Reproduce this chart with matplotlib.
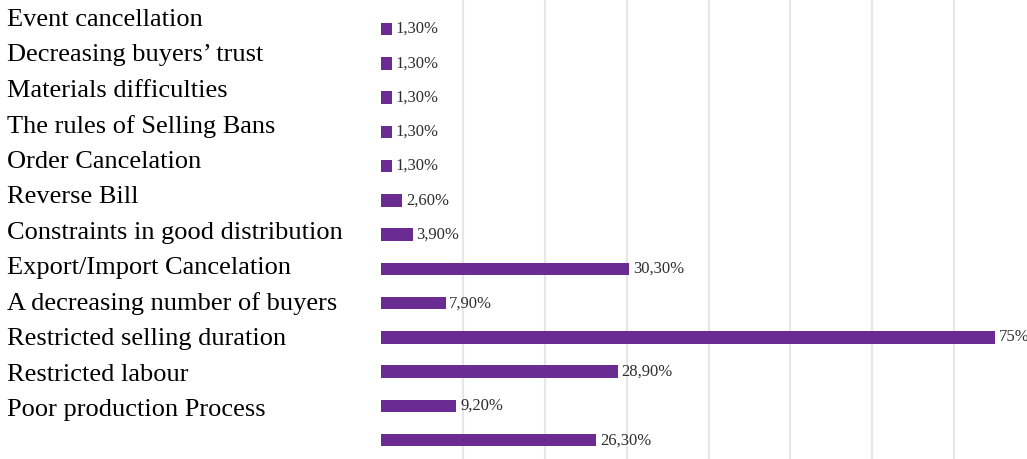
import matplotlib.pyplot as plt
import numpy as np

categories = [
    "Event cancellation",
    "Decreasing buyers\u2019 trust",
    "Materials difficulties",
    "The rules of Selling Bans",
    "Order Cancelation",
    "Reverse Bill",
    "Constraints in good distribution",
    "Export/Import Cancelation",
    "A decreasing number of buyers",
    "Restricted selling duration",
    "Restricted labour",
    "Poor production Process",
]
values = [1.3, 1.3, 1.3, 1.3, 1.3, 2.6, 3.9, 30.3, 7.9, 75, 28.9, 9.2, 26.3]
value_labels = ["1,30%", "1,30%", "1,30%", "1,30%", "1,30%", "2,60%", "3,90%",
                "30,30%", "7,90%", "75%", "28,90%", "9,20%", "26,30%"]

bar_color = "#6a2c92"

fig = plt.figure(figsize=(10.27, 4.59), dpi=100)
ax = fig.add_axes([381 / 1027, 0.0, 1 - 381 / 1027, 1.0])

pos = np.arange(len(values))
ax.barh(pos, values, height=0.36, color=bar_color, zorder=3)

for p, v, lab in zip(pos, values, value_labels):
    ax.text(v + 0.45, p, lab, va="center", ha="left", fontsize=12,
            family="Liberation Serif", color="#2e2e2e", zorder=4)

ax.set_xlim(0, 78.9)
ax.set_ylim(len(values) - 0.5 + 0.05, -0.85)
ax.set_xticks(np.arange(10, 80, 10))
ax.xaxis.grid(True, color="#e6e6e6", linewidth=1.5, zorder=0)
ax.tick_params(axis="x", length=0, labelbottom=False)

# category names sit a touch higher than their bars and drift down the list
label_pos = np.arange(len(categories)) * 1.037 - 0.35
ax.set_yticks(label_pos)
ax.set_yticklabels(categories, family="Liberation Serif", fontsize=19, color="black")
ax.tick_params(axis="y", length=0, pad=0)
for t in ax.get_yticklabels():
    t.set_horizontalalignment("left")
    t.set_x(-374 / 646)

for s in ax.spines.values():
    s.set_visible(False)

fig.savefig("out.png", dpi=100)
